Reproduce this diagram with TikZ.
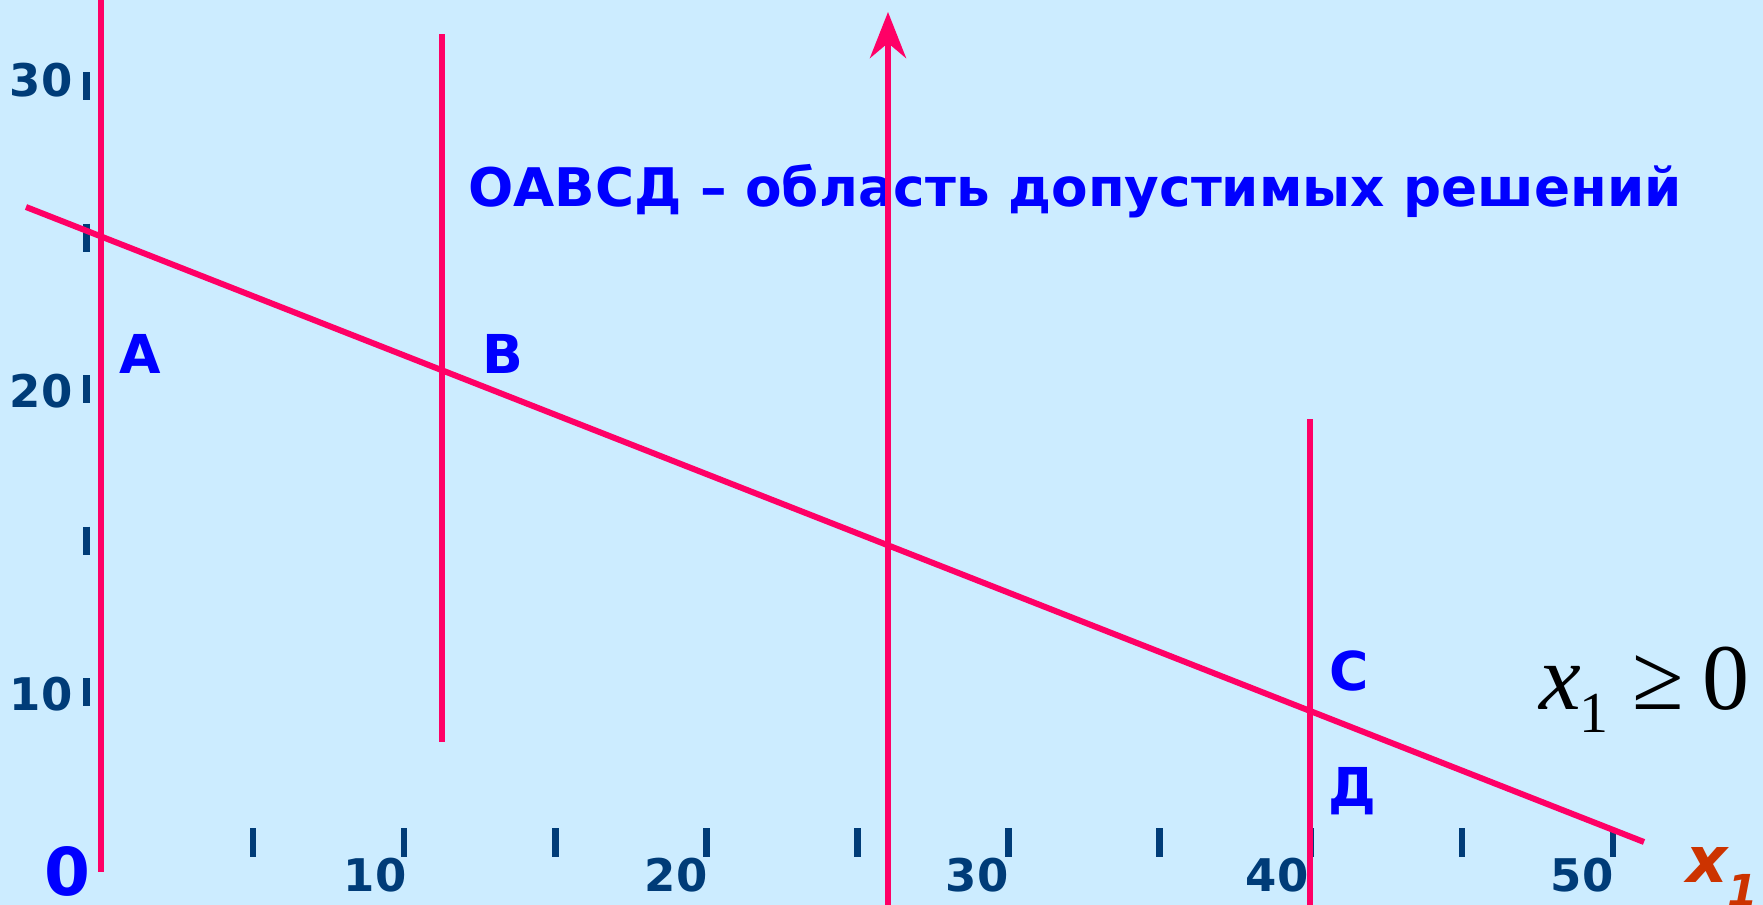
\documentclass[tikz,border=0pt]{standalone}
\usepackage{fontspec}
\setmainfont{DejaVu Sans}
\newfontfamily\ineqfont{Liberation Serif}
\usetikzlibrary{arrows.meta}
\definecolor{bgblue}{HTML}{CCECFF}
\definecolor{linered}{HTML}{FF0066}
\definecolor{tickblue}{HTML}{003C78}
\definecolor{axisorange}{HTML}{CC3300}
\begin{document}
\begin{tikzpicture}[x=0.5pt,y=-0.5pt, bound/.style={draw=linered,line width=3pt}, tickmark/.style={draw=tickblue,line width=3.3pt}, numlbl/.style={text=tickblue,inner sep=0pt,font=\bfseries\fontsize{22.5}{24}\selectfont}, ptlbl/.style={text=blue,inner sep=0pt,font=\bfseries\fontsize{26.8}{30}\selectfont}, >={Stealth[length=23pt,width=18pt,inset=7.5pt]}]
\fill[bgblue] (0,0) rectangle (1763,905);
\useasboundingbox (0,0) rectangle (1763,905);
\foreach \i in {0,...,4} \draw[tickmark] (86.5,{72+151.5*\i}) -- ++(0,28);
\foreach \i in {0,...,9} \draw[tickmark] ({253+151.1*\i},828) -- ++(0,29);
\foreach \v/\y in {30/80,20/391,10/694} \node[numlbl,anchor=east] (ly\v) at (73,\y) {\v};
\foreach \v/\x in {10/407,20/708,30/1009,40/1309,50/1614} \node[numlbl,anchor=east] (lx\v) at (\x,875) {\v};
\node[text=blue,inner sep=0pt,font=\bfseries\fontsize{33}{36}\selectfont,anchor=base] (O) at (67.5,895) {0};
\node[ptlbl,anchor=base west,font=\bfseries\fontsize{26.6}{30}\selectfont] (title) at (468,206) {ОАВСД – область допустимых решений};
\node[ptlbl,anchor=base] (A) at (140,373) {А};
\node[ptlbl,anchor=base] (B) at (503,373) {В};
\node[ptlbl,anchor=base] (C) at (1349,690) {С};
\node[ptlbl,anchor=base] (D) at (1352,806) {Д};
\node[inner sep=0pt,anchor=base west,font=\ineqfont\fontsize{47}{50}\selectfont] (ineq) at (1539,709) {\textit{x}\kern-1pt\raisebox{-11.5pt}{\fontsize{29}{30}\selectfont 1}\hspace{0.26em}≥\hspace{0.2em}0};
\node[text=axisorange,inner sep=0pt,anchor=base west,font=\bfseries\itshape\fontsize{32}{34}\selectfont] (x1) at (1686,882) {x\raisebox{-12pt}{\fontsize{22}{24}\selectfont 1}};
\coordinate (a1) at (101,0); \coordinate (a2) at (101,872);
\coordinate (b1) at (442,34); \coordinate (b2) at (442,742);
\coordinate (c1) at (1310,419); \coordinate (c2) at (1310,905);
\coordinate (s1) at (26,207); \coordinate (s2) at (1644,842);
\coordinate (y0) at (888,905); \coordinate (y1) at (888,12);
\draw[bound] (a1) -- (a2);
\draw[bound] (b1) -- (b2);
\draw[bound] (c1) -- (c2);
\draw[bound] (s1) -- (s2);
\draw[bound,->] (y0) -- (y1);
\end{tikzpicture}
\end{document}
